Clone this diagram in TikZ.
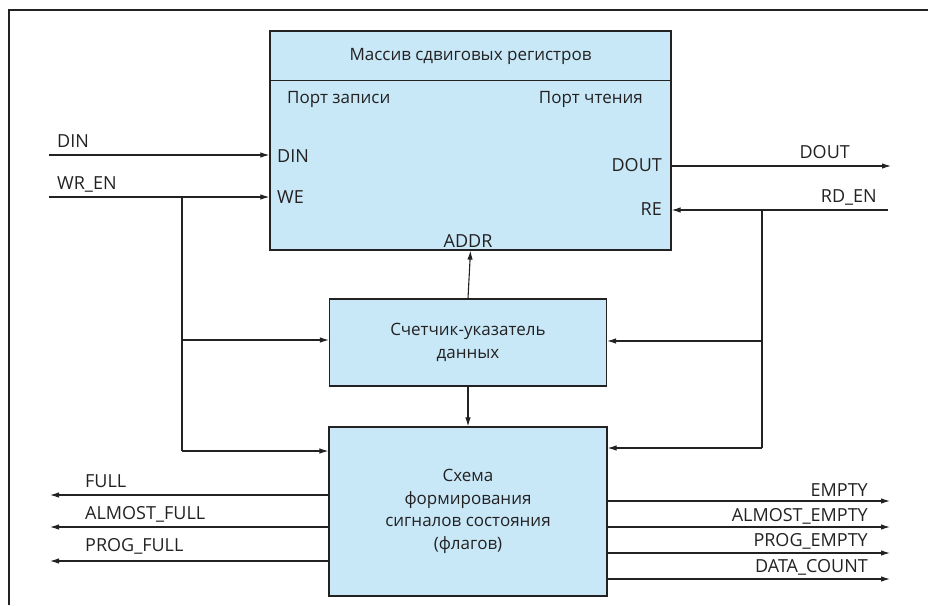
\documentclass[tikz,border=0pt]{standalone}
\usepackage{fontspec}
\setmainfont{Open Sans}
\usetikzlibrary{arrows.meta,calc}
\definecolor{boxfill}{RGB}{200,232,248}
\definecolor{ln}{RGB}{35,33,34}
\begin{document}
\begin{tikzpicture}[x=1pt,y=-1pt,
  every node/.style={font=\fontsize{17}{22.7}\selectfont, text=ln, inner sep=0pt},
  sig/.style={font=\fontsize{18}{22}\selectfont},
  blk/.style={draw=ln, line width=1.2pt, fill=boxfill},
  wire/.style={draw=ln, line width=1.1pt},
  arr/.style={wire, -{Latex[length=9pt,width=5.5pt]}},
  lbl/.style={align=center}]
\useasboundingbox (0,0) rectangle (928,605);
\draw[ln, line width=1.6pt] (9,605) -- (9,10) -- (928,10);
% boxes
\node[blk, minimum width=401pt, minimum height=219pt] (mem) at (470.5,140.5) {};
\draw[ln, line width=1.2pt] ($(mem.north west)+(0,50)$) -- ($(mem.north east)+(0,50)$);
\node (title) at (470.5,56) {Массив сдвиговых регистров};
\node[anchor=west] (pw) at (287,99) {Порт записи};
\node[anchor=east] (pr) at (643,99) {Порт чтения};
\node[sig, anchor=west] (pdin) at (277,156) {DIN};
\node[sig, anchor=west] (pwe) at (277,197) {WE};
\node[sig, anchor=east] (pdout) at (662,165) {DOUT};
\node[sig, anchor=east] (pre) at (662,209) {RE};
\node[sig] (paddr) at (468,241) {ADDR};
\node[blk, minimum width=277pt, minimum height=87pt, lbl] (cnt) at (468,342.5) {Счетчик-указатель\\данных};
\node[blk, minimum width=278pt, minimum height=169pt, lbl] (flg) at (468,511.5) {Схема\\формирования\\сигналов состояния\\(флагов)};
% inputs
\coordinate (din0) at (49,155);
\coordinate (wr0) at (49,197);
\coordinate (rd0) at (888,210);
\coordinate (dout1) at (891,166);
\coordinate (lv) at (182,197);
\coordinate (rv) at (762,210);
\draw[arr] (din0) -- (din0 -| mem.west);
\draw[arr] (wr0) -- (wr0 -| mem.west);
\draw[arr] (rd0) -- (rd0 -| mem.east);
\draw[arr] (dout1 -| mem.east) -- (dout1);
\node[sig, anchor=west] (ldin) at (57,141) {DIN};
\node[sig, anchor=west] (lwr) at (57,184) {WR\_EN};
\node[sig, anchor=east] (lrd) at (877,197) {RD\_EN};
\node[sig, anchor=east] (ldout) at (850,152) {DOUT};
% left bus
\coordinate (lv1) at (182,340);
\coordinate (lv2) at (182,451);
\draw[wire] (lv) -- (lv2);
\draw[arr] (lv1) -- (lv1 -| cnt.west);
\draw[arr] (lv2) -- (lv2 -| flg.west);
% right bus
\coordinate (rv1) at (762,341);
\coordinate (rv2) at (762,448);
\draw[wire] (rv) -- (rv2);
\draw[arr] (rv1) -- (rv1 -| cnt.east);
\draw[arr] (rv2) -- (rv2 -| flg.east);
% vertical
\draw[arr] (cnt.north) -- (mem.south);
\draw[arr] (cnt.south) -- (flg.north);
% flag outputs left
\coordinate (f1) at (50,495);
\coordinate (f2) at (50,527);
\coordinate (f3) at (50,561);
\draw[arr] (f1 -| flg.west) -- (f1);
\draw[arr] (f2 -| flg.west) -- (f2);
\draw[arr] (f3 -| flg.west) -- (f3);
\node[sig, anchor=west] (lf1) at (85,481) {FULL};
\node[sig, anchor=west] (lf2) at (85,514) {ALMOST\_FULL};
\node[sig, anchor=west] (lf3) at (85,546) {PROG\_FULL};
% flag outputs right
\coordinate (e1) at (890,501);
\coordinate (e2) at (890,527);
\coordinate (e3) at (890,553);
\coordinate (e4) at (890,579);
\draw[arr] (e1 -| flg.east) -- (e1);
\draw[arr] (e2 -| flg.east) -- (e2);
\draw[arr] (e3 -| flg.east) -- (e3);
\draw[arr] (e4 -| flg.east) -- (e4);
\node[sig, anchor=east] (le1) at (868,490) {EMPTY};
\node[sig, anchor=east] (le2) at (868,516) {ALMOST\_EMPTY};
\node[sig, anchor=east] (le3) at (868,541) {PROG\_EMPTY};
\node[sig, anchor=east] (le4) at (868,567) {DATA\_COUNT};
\end{tikzpicture}
\end{document}
